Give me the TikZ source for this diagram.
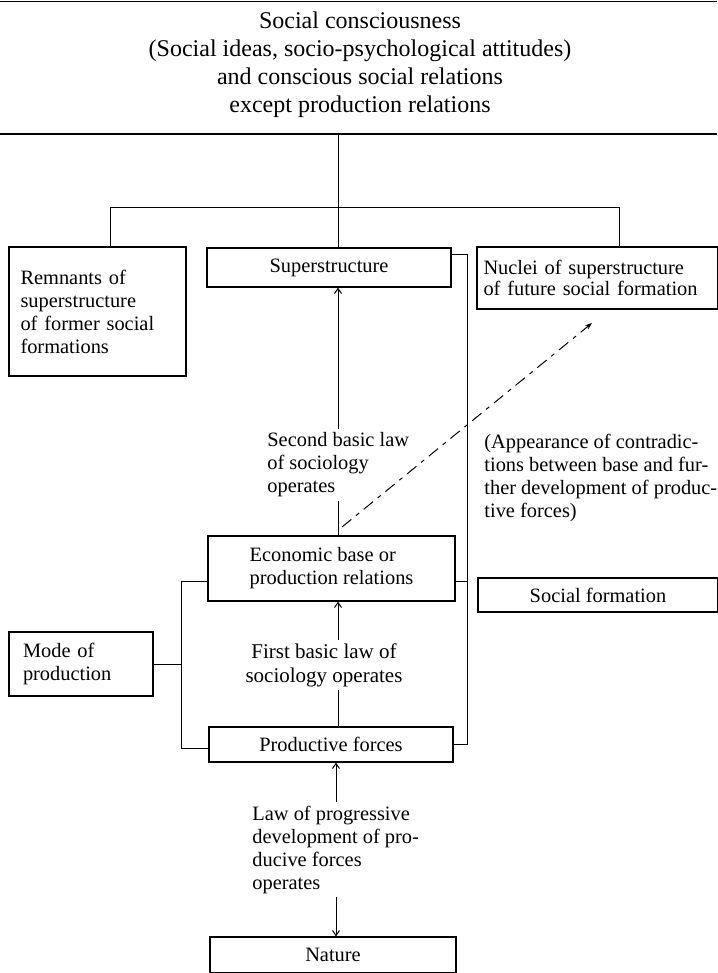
\documentclass[tikz,border=0pt]{standalone}
\usepackage{fontspec}
\setmainfont{Liberation Serif}
\usetikzlibrary{arrows.meta}
\newcommand{\txtsz}{\fontsize{10.2}{11.5}\selectfont}
\newcommand{\ttlsz}{\fontsize{12}{14}\selectfont}
\tikzset{
  box/.style={draw, line width=0.65pt, inner sep=0pt, font=\txtsz},
  lbl/.style={inner xsep=0pt, inner ysep=1.5pt, font=\txtsz, align=left},
  conn/.style={line width=0.5pt},
  uparrow/.style={conn, -{Straight Barb[length=2.5pt,width=3.5pt]}},
  dasharrow/.style={conn, dash pattern=on 6pt off 3pt on 2pt off 3pt, -{Stealth[length=3.5pt,width=2.5pt]}}
}
\begin{document}
\begin{tikzpicture}[x=0.5pt,y=-0.5pt]
  \useasboundingbox (0,0) rectangle (717,973);
  % heading
  \draw[line width=0.6pt] (0,1.5) -- (717,1.5);
  \node[font=\ttlsz, align=center] (title) at (360,65)
    {Social consciousness\\ (Social ideas, socio-psychological attitudes)\\
     and conscious social relations\\ except production relations};
  \coordinate (rl) at (0,134);
  \coordinate (rr) at (717,134);
  \draw[line width=0.6pt] (rl) -- (rr);
  % boxes
  \node[box, minimum width=88.5pt, minimum height=64.5pt, text width=77pt, align=left] (rem) at (97.5,311.5)
    {Remnants of\\ superstructure\\ of former social\\ formations};
  \node[box, minimum width=122pt, minimum height=19.5pt] (sup) at (329,267.5) {Superstructure};
  \node[box, minimum width=120.5pt, minimum height=31pt, text width=114pt, align=left,
        font=\fontsize{10.2}{10.5}\selectfont] (nuc) at (597.5,278)
    {Nuclei of superstructure\\ of future social formation};
  \node[box, minimum width=123.5pt, minimum height=32.5pt, align=left] (eco) at (331.5,568.5)
    {Economic base or\\ production relations};
  \node[box, minimum width=120pt, minimum height=17pt] (sf) at (598,595) {Social formation};
  \node[box, minimum width=72pt, minimum height=32pt, text width=58pt, align=left] (mode) at (81,664)
    {Mode of\\ production};
  \node[box, minimum width=122pt, minimum height=17.5pt] (pf) at (331,744.5) {Productive forces};
  \node[box, minimum width=123pt, minimum height=18pt] (nat) at (333,955) {Nature};
  % labels on the arrows
  \node[lbl, anchor=west] (law2) at (267,465) {Second basic law\\ of sociology\\ operates};
  \node[lbl, align=center, font=\fontsize{10.5}{12}\selectfont] (law1) at (324,665)
    {First basic law of\\ sociology operates};
  \node[lbl, anchor=west] (law3) at (252,849.5)
    {Law of progressive\\ development of pro-\\ ducive forces\\ operates};
  \node[lbl, anchor=west] (app) at (484,477.5)
    {(Appearance of contradic-\\ tions between base and fur-\\ ther development of produc-\\ tive forces)};
  % tree under the rule
  \coordinate (ax) at (338,0);
  \coordinate (hub) at (338,208);
  \coordinate (tl) at (110,208);
  \coordinate (tr) at (619,208);
  \draw[conn] (ax |- rl) -- (hub);
  \draw[conn] (rem.north -| tl) -- (tl) -- (tr) -- (nuc.north -| tr);
  \draw[conn] (hub) -- (sup.north -| hub);
  % brackets
  \coordinate (rbt) at (467,254);
  \coordinate (rbm) at (467,581);
  \coordinate (rbb) at (467,744);
  \draw[conn] (sup.east |- rbt) -- (rbt) -- (rbb) -- (pf.east |- rbb);
  \draw[conn] (eco.east |- rbm) -- (rbm);
  \coordinate (lbt) at (181,581);
  \coordinate (lbb) at (181,748);
  \draw[conn] (eco.west |- lbt) -- (lbt) -- (lbb) -- (pf.west |- lbb);
  \draw[conn] (mode.east) -- (mode.east -| lbt);
  % laws
  \draw[conn] (eco.north -| ax) -- (law2.south -| ax);
  \draw[uparrow] (law2.north -| ax) -- (sup.south -| ax);
  \draw[conn] (pf.north -| ax) -- (law1.south -| ax);
  \draw[uparrow] (law1.north -| ax) -- (eco.south -| ax);
  \coordinate (ax3) at (336,0);
  \draw[uparrow] (law3.north -| ax3) -- (pf.south -| ax3);
  \draw[uparrow] (law3.south -| ax3) -- (nat.north -| ax3);
  % contradictions
  \coordinate (ds) at (342,527);
  \coordinate (de) at (592,323);
  \draw[dasharrow] (ds) -- (de);
\end{tikzpicture}
\end{document}
